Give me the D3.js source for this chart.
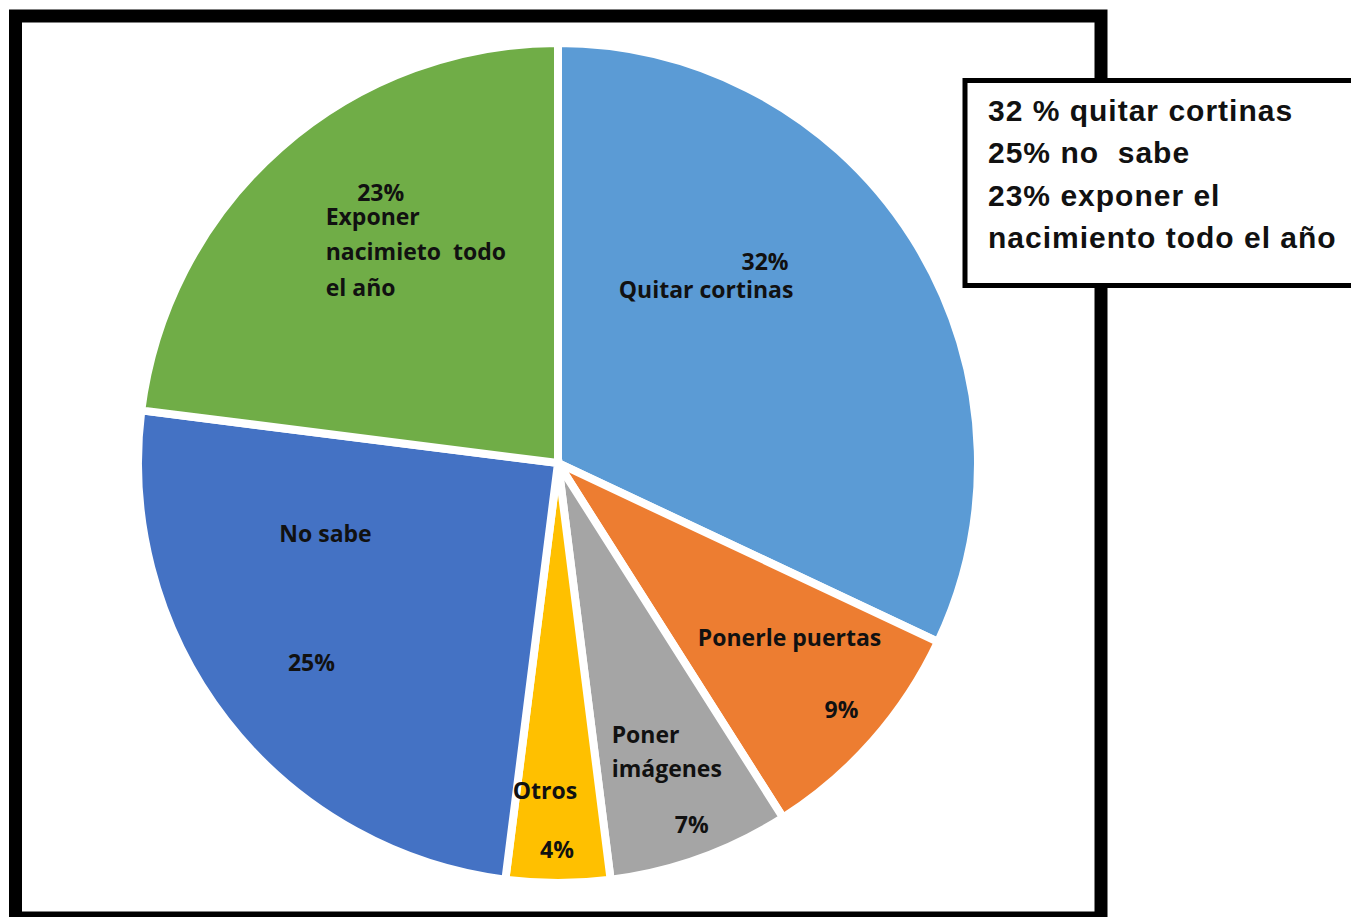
<!DOCTYPE html>
<html>
<head>
<meta charset="utf-8">
<script src="https://cdn.jsdelivr.net/npm/d3@7"></script>
<style>
  html, body { margin: 0; padding: 0; background: #fff; }
  svg { display: block; }
  .slice-label { font-family: "Open Sans", Lato, sans-serif; font-weight: 700; font-size: 23px; fill: #111; white-space: pre; }
  .note-text { font-family: "Liberation Sans", Arial, sans-serif; font-weight: 700; font-size: 30px; letter-spacing: 1px; fill: #111; white-space: pre; }
</style>
</head>
<body>
<div id="chart"></div>
<script>
// datos del gráfico
const categories = ["Quitar cortinas", "Ponerle puertas", "Poner imágenes", "Otros", "No sabe", "Exponer nacimieto todo el año"];
const values = [32, 9, 7, 4, 25, 23];
const labelLines = [
  ["Quitar cortinas"],
  ["Ponerle puertas"],
  ["Poner", "imágenes"],
  ["Otros"],
  ["No sabe"],
  ["Exponer", "nacimieto  todo", "el año"]
];
const noteLines = ["32 % quitar cortinas", "25% no  sabe", "23% exponer el", "nacimiento todo el año"];

const W = 1351, H = 917;
const cx = 558, cy = 463, radius = 420;

const color = d3.scaleOrdinal()
  .domain(categories)
  .range(["#5b9bd5", "#ed7d31", "#a5a5a5", "#ffc000", "#4472c4", "#70ad47"]);

// colocación de etiquetas: desplazamiento respecto al centroide (px)
// pct = etiqueta del porcentaje, lines = nombre, anchor = alineación
const labelLayout = {
  "Quitar cortinas": { pct: [-4, -65], lines: [-63, -37], step: 0, anchor: "middle" },
  "Ponerle puertas": { pct: [96, 84], lines: [44, 12], step: 0, anchor: "middle" },
  "Poner imágenes": { pct: [49, 129], lines: [-31, 39], step: 34, anchor: "start" },
  "Otros": { pct: [-1, 139], lines: [-13, 80], step: 0, anchor: "middle" },
  "No sabe": { pct: [-49, 49], lines: [-35, -80], step: 0, anchor: "middle" },
  "Exponer nacimieto todo el año": { pct: [-12, -81], lines: [-67, -57], step: 35.5, anchor: "start" }
};

const svg = d3.select("#chart").append("svg")
  .attr("width", W).attr("height", H);

svg.append("rect").attr("width", W).attr("height", H).attr("fill", "#fff");

// marco negro
svg.append("rect")
  .attr("x", 15.5).attr("y", 16)
  .attr("width", 1085.5).attr("height", 902)
  .attr("fill", "none")
  .attr("stroke", "#000")
  .attr("stroke-width", 13);

const pie = d3.pie().sort(null).value(d => d.value);
const arcs = pie(categories.map((c, i) => ({ cat: c, value: values[i], lines: labelLines[i] })));

const arc = d3.arc().innerRadius(0).outerRadius(radius);
const labelArc = d3.arc().innerRadius(250).outerRadius(250);

const g = svg.append("g").attr("transform", `translate(${cx},${cy})`);

g.selectAll(".slice")
  .data(arcs)
  .enter()
  .append("path")
  .attr("class", "slice")
  .attr("d", arc)
  .attr("fill", d => color(d.data.cat))
  .attr("stroke", "#fff")
  .attr("stroke-width", 8)
  .attr("stroke-linejoin", "miter");

const labels = g.selectAll(".lbl")
  .data(arcs)
  .enter()
  .append("g")
  .attr("class", "lbl");

labels.each(function (d) {
  const el = d3.select(this);
  const [x0, y0] = labelArc.centroid(d);
  const lay = labelLayout[d.data.cat];
  el.append("text")
    .attr("class", "slice-label")
    .attr("x", x0 + lay.pct[0])
    .attr("y", y0 + lay.pct[1])
    .attr("text-anchor", "middle")
    .attr("dominant-baseline", "middle")
    .text(d.data.value + "%");
  d.data.lines.forEach((line, i) => {
    el.append("text")
      .attr("class", "slice-label")
      .attr("x", x0 + lay.lines[0])
      .attr("y", y0 + lay.lines[1] + i * lay.step)
      .attr("text-anchor", lay.anchor)
      .attr("dominant-baseline", "middle")
      .text(line);
  });
});

// cuadro de nota
svg.append("rect")
  .attr("x", 965).attr("y", 80.5)
  .attr("width", 400).attr("height", 205)
  .attr("fill", "#fff")
  .attr("stroke", "#000")
  .attr("stroke-width", 5);

svg.selectAll(".note-text")
  .data(noteLines)
  .enter()
  .append("text")
  .attr("class", "note-text")
  .attr("x", 988)
  .attr("y", (d, i) => 121 + i * 42.3)
  .text(d => d);
</script>
</body>
</html>
